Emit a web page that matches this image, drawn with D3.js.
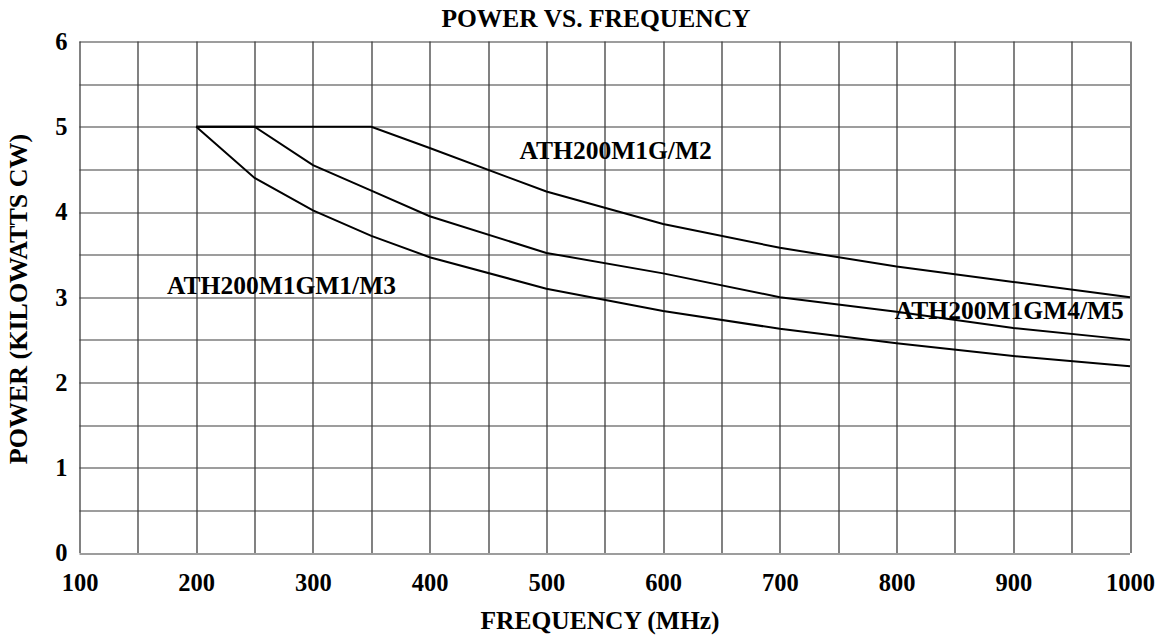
<!DOCTYPE html>
<html>
<head>
<meta charset="utf-8">
<script src="https://cdn.jsdelivr.net/npm/d3@7"></script>
<style>
  html, body { margin: 0; padding: 0; background: #fff; }
  svg text { font-family: "Liberation Serif", "Times New Roman", serif; font-weight: bold; fill: #000; }
</style>
</head>
<body>
<div id="chart"></div>
<script>
// data
const freqM1M3 = [200, 250, 300, 350, 400, 500, 600, 700, 800, 900, 1000];
const powerM1M3 = [5, 4.4, 4.02, 3.72, 3.47, 3.1, 2.84, 2.63, 2.46, 2.31, 2.19];

const freqM4M5 = [200, 250, 300, 350, 400, 500, 600, 700, 800, 900, 1000];
const powerM4M5 = [5, 5, 4.55, 4.25, 3.95, 3.52, 3.28, 3.0, 2.83, 2.64, 2.5];

const freqM2 = [200, 350, 400, 500, 600, 700, 800, 900, 1000];
const powerM2 = [5, 5, 4.75, 4.24, 3.86, 3.58, 3.36, 3.18, 3.0];

const xTicks = [100, 200, 300, 400, 500, 600, 700, 800, 900, 1000];
const yTicks = [0, 1, 2, 3, 4, 5, 6];

// label anchors (freq, power)
const labelNames = ['ATH200M1G/M2', 'ATH200M1GM1/M3', 'ATH200M1GM4/M5'];
const labelFreq = [477, 175, 798.5];
const labelPower = [4.62, 3.04, 2.745];

const width = 1163, height = 640;
const margin = { top: 41.5, right: 33, bottom: 87, left: 79.5 };
const W = width - margin.left - margin.right;
const H = height - margin.top - margin.bottom;

const svg = d3.select('#chart').append('svg')
  .attr('width', width)
  .attr('height', height);

const g = svg.append('g')
  .attr('transform', `translate(${margin.left},${margin.top})`);

const x = d3.scaleLinear().domain([100, 1000]).range([0, W]);
const y = d3.scaleLinear().domain([0, 6]).range([H, 0]);

// ===== grid =====
g.append('g')
  .selectAll('line')
  .data(d3.range(100, 1001, 50))
  .join('line')
  .attr('x1', d => Math.round(x(d)) + 0.5)
  .attr('x2', d => Math.round(x(d)) + 0.5)
  .attr('y1', 0)
  .attr('y2', H)
  .attr('stroke', '#2e2e2e')
  .attr('stroke-width', 1.2);

g.append('g')
  .selectAll('line')
  .data(d3.range(0, 6.01, 0.5))
  .join('line')
  .attr('x1', 0)
  .attr('x2', W)
  .attr('y1', d => Math.round(y(d)) + 0.5)
  .attr('y2', d => Math.round(y(d)) + 0.5)
  .attr('stroke', '#3c3c3c')
  .attr('stroke-width', 1.2);

// ===== axes (labels only) =====
const xAxis = g.append('g')
  .attr('transform', `translate(0,${H})`)
  .call(d3.axisBottom(x).tickValues(xTicks).tickFormat(d3.format('d')).tickSize(0).tickPadding(0));
xAxis.select('.domain').remove();
xAxis.selectAll('text')
  .attr('y', 38)
  .attr('dy', null)
  .attr('font-size', '24.5px')
  .attr('font-family', null);

const yAxis = g.append('g')
  .call(d3.axisLeft(y).tickValues(yTicks).tickFormat(d3.format('d')).tickSize(0).tickPadding(12));
yAxis.select('.domain').remove();
yAxis.selectAll('text')
  .attr('font-size', '24.5px')
  .attr('font-family', null);

// ===== curves =====
const line = d3.line().x(d => x(d[0])).y(d => y(d[1]));
const series = [
  d3.zip(freqM2, powerM2),
  d3.zip(freqM4M5, powerM4M5),
  d3.zip(freqM1M3, powerM1M3)
];
g.selectAll('.curve')
  .data(series)
  .join('path')
  .attr('class', 'curve')
  .attr('d', line)
  .attr('fill', 'none')
  .attr('stroke', '#000')
  .attr('stroke-width', 2);

// ===== series labels =====
g.selectAll('.lbl')
  .data(labelNames)
  .join('text')
  .attr('class', 'lbl')
  .attr('x', (d, i) => x(labelFreq[i]))
  .attr('y', (d, i) => y(labelPower[i]))
  .attr('font-size', '25.5px')
  .text(d => d);

// ===== titles =====
svg.append('text')
  .attr('x', 596)
  .attr('y', 27)
  .attr('text-anchor', 'middle')
  .attr('font-size', '25.5px')
  .text('POWER VS. FREQUENCY');

svg.append('text')
  .attr('x', 600)
  .attr('y', 629)
  .attr('text-anchor', 'middle')
  .attr('font-size', '25.5px')
  .text('FREQUENCY (MHz)');

svg.append('text')
  .attr('transform', 'translate(27,299) rotate(-90)')
  .attr('text-anchor', 'middle')
  .attr('font-size', '26px')
  .text('POWER (KILOWATTS CW)');
</script>
</body>
</html>
